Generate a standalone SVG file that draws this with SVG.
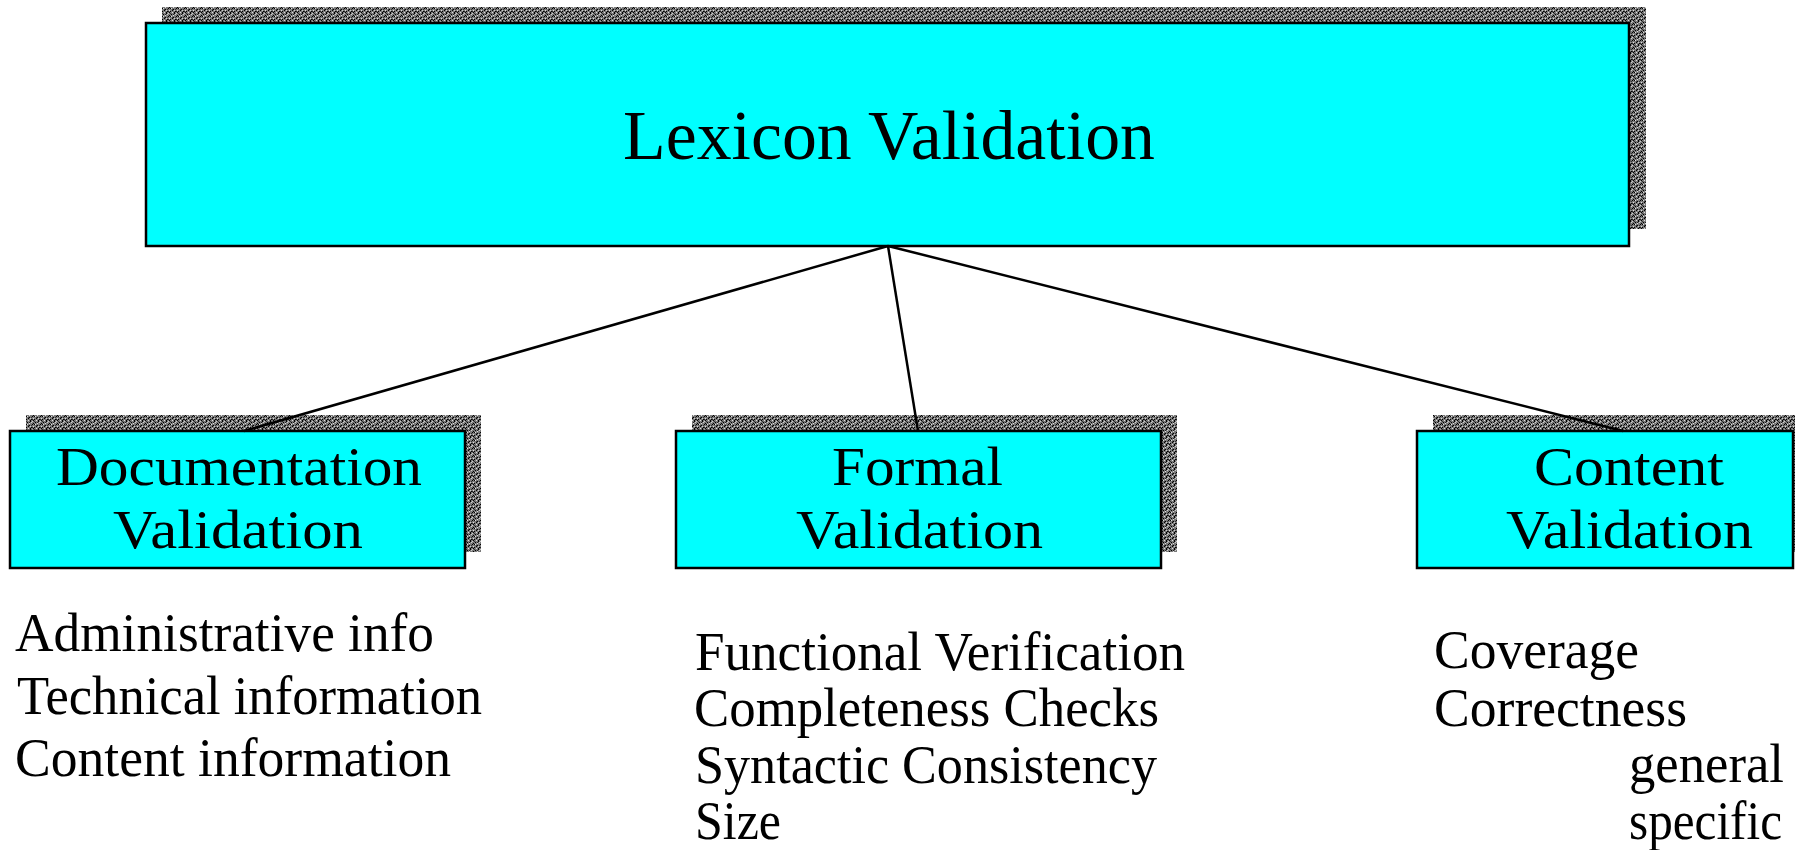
<svg xmlns="http://www.w3.org/2000/svg" width="1795" height="850" viewBox="0 0 1795 850">
  <style>
    .box { fill: #00ffff; stroke: #000; stroke-width: 2.5; }
    .shadow { fill: url(#dither); }
    .lbl { font-family: "Liberation Serif", "Times New Roman", serif; fill: #000; }
    .title { font-size: 70px; }
    .name { font-size: 55px; }
    .item { font-size: 54px; }
    .link { stroke: #000; stroke-width: 2.5; fill: none; }
  </style>
  <defs>
    <!-- noisy grey fill used for the drop shadows -->
    <pattern id="dither" width="8" height="8" patternUnits="userSpaceOnUse">
      <rect width="8" height="8" fill="#7a7a7a"/>
      <rect x="0" y="0" width="1" height="1" fill="#000"/>
      <rect x="2" y="0" width="1" height="1" fill="#000"/>
      <rect x="3" y="0" width="1" height="1" fill="#e0e0e0"/>
      <rect x="5" y="1" width="1" height="1" fill="#000"/>
      <rect x="7" y="1" width="1" height="1" fill="#333"/>
      <rect x="1" y="2" width="1" height="1" fill="#ddd"/>
      <rect x="4" y="2" width="1" height="1" fill="#000"/>
      <rect x="6" y="2" width="1" height="1" fill="#ccc"/>
      <rect x="2" y="3" width="1" height="1" fill="#000"/>
      <rect x="7" y="3" width="1" height="1" fill="#000"/>
      <rect x="0" y="3" width="1" height="1" fill="#222"/>
      <rect x="4" y="4" width="1" height="1" fill="#ddd"/>
      <rect x="6" y="4" width="1" height="1" fill="#000"/>
      <rect x="1" y="4" width="1" height="1" fill="#000"/>
      <rect x="0" y="5" width="1" height="1" fill="#ccc"/>
      <rect x="6" y="5" width="1" height="1" fill="#000"/>
      <rect x="3" y="6" width="1" height="1" fill="#000"/>
      <rect x="5" y="6" width="1" height="1" fill="#222"/>
      <rect x="1" y="7" width="1" height="1" fill="#000"/>
      <rect x="5" y="7" width="1" height="1" fill="#ddd"/>
      <rect x="7" y="6" width="1" height="1" fill="#ccc"/>
      <rect x="2" y="5" width="1" height="1" fill="#333"/>
      <rect x="4" y="1" width="1" height="1" fill="#444"/>
    </pattern>
  </defs>

  <rect width="1795" height="850" fill="#fff"/>

  <g id="lexicon-validation">
    <rect class="shadow" x="162" y="7" width="1484" height="222"/>
    <rect class="box" x="146" y="23" width="1483" height="223"/>
    <text class="lbl title" x="623" y="159" textLength="532" lengthAdjust="spacingAndGlyphs">Lexicon Validation</text>
  </g>

  <g id="documentation-validation">
    <rect class="shadow" x="26" y="415" width="455" height="137"/>
    <rect class="box" x="10" y="431" width="455" height="137"/>
    <text class="lbl name" x="56" y="485" textLength="366" lengthAdjust="spacingAndGlyphs">Documentation</text>
    <text class="lbl name" x="113" y="548" textLength="250" lengthAdjust="spacingAndGlyphs">Validation</text>
  </g>

  <g id="formal-validation">
    <rect class="shadow" x="692" y="415" width="485" height="137"/>
    <rect class="box" x="676" y="431" width="485" height="137"/>
    <text class="lbl name" x="832" y="485" textLength="171" lengthAdjust="spacingAndGlyphs">Formal</text>
    <text class="lbl name" x="796" y="548" textLength="247" lengthAdjust="spacingAndGlyphs">Validation</text>
  </g>

  <g id="content-validation">
    <rect class="shadow" x="1433" y="415" width="376" height="137"/>
    <rect class="box" x="1417" y="431" width="376" height="137"/>
    <text class="lbl name" x="1534" y="485" textLength="190" lengthAdjust="spacingAndGlyphs">Content</text>
    <text class="lbl name" x="1506" y="548" textLength="247" lengthAdjust="spacingAndGlyphs">Validation</text>
  </g>

  <g id="documentation-items">
    <text class="lbl item" x="15" y="651" textLength="419" lengthAdjust="spacingAndGlyphs">Administrative info</text>
    <text class="lbl item" x="17" y="714" textLength="465" lengthAdjust="spacingAndGlyphs">Technical information</text>
    <text class="lbl item" x="15" y="776" textLength="436" lengthAdjust="spacingAndGlyphs">Content information</text>
  </g>

  <g id="formal-items">
    <text class="lbl item" x="695" y="670" textLength="490" lengthAdjust="spacingAndGlyphs">Functional Verification</text>
    <text class="lbl item" x="694" y="726" textLength="465" lengthAdjust="spacingAndGlyphs">Completeness Checks</text>
    <text class="lbl item" x="695" y="783" textLength="462" lengthAdjust="spacingAndGlyphs">Syntactic Consistency</text>
    <text class="lbl item" x="695" y="839" textLength="86" lengthAdjust="spacingAndGlyphs">Size</text>
  </g>

  <g id="content-items">
    <text class="lbl item" x="1434" y="668" textLength="205" lengthAdjust="spacingAndGlyphs">Coverage</text>
    <text class="lbl item" x="1434" y="726" textLength="253" lengthAdjust="spacingAndGlyphs">Correctness</text>
    <text class="lbl item" x="1629" y="782" textLength="155" lengthAdjust="spacingAndGlyphs">general</text>
    <text class="lbl item" x="1629" y="839" textLength="153" lengthAdjust="spacingAndGlyphs">specific</text>
  </g>

  <g id="connectors">
    <line class="link" x1="888" y1="246" x2="244" y2="431"/>
    <line class="link" x1="888" y1="246" x2="918" y2="431"/>
    <line class="link" x1="888" y1="246" x2="1623" y2="431"/>
  </g>
</svg>
